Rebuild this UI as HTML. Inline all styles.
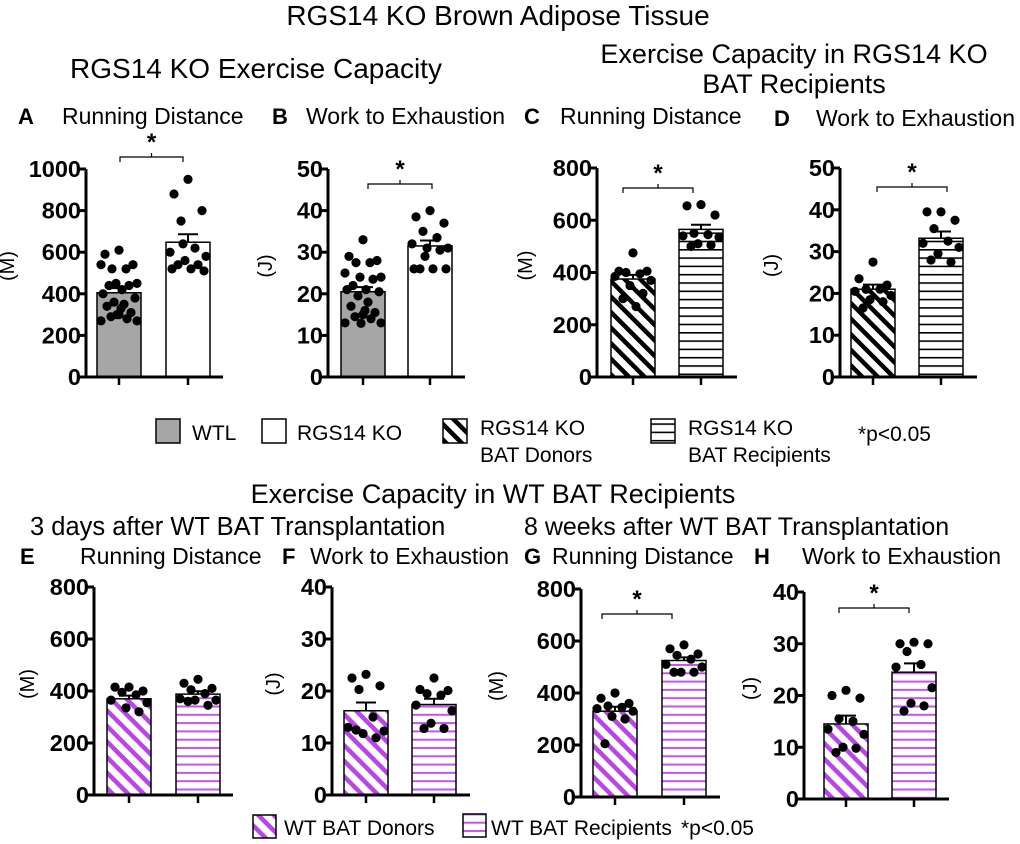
<!DOCTYPE html>
<html><head><meta charset="utf-8"><style>
body{margin:0;background:#fff;}
svg{display:block;font-family:"Liberation Sans",Arial,sans-serif;}
</style></head><body>
<svg id="fig" width="1020" height="844" viewBox="0 0 1020 844" xmlns="http://www.w3.org/2000/svg">
<defs>
<pattern id="hatchK" patternUnits="userSpaceOnUse" width="11" height="11" patternTransform="rotate(-45)"><rect width="11" height="11" fill="#fff"/><rect x="0" y="0" width="4.5" height="11" fill="#000"/></pattern>
<pattern id="horizK" patternUnits="userSpaceOnUse" width="10" height="8.3"><rect width="10" height="8.3" fill="#fff"/><rect x="0" y="0" width="10" height="1.6" fill="#000"/></pattern>
<pattern id="hatchP" patternUnits="userSpaceOnUse" width="11" height="11" patternTransform="rotate(-45)"><rect width="11" height="11" fill="#fff"/><rect x="0" y="0" width="4.5" height="11" fill="#b845e6"/></pattern>
<pattern id="horizP" patternUnits="userSpaceOnUse" width="10" height="8.3"><rect width="10" height="8.3" fill="#fff"/><rect x="0" y="0" width="10" height="2" fill="#c455ea"/></pattern>
</defs>
<g font-size="27">
<text x="498" y="25" text-anchor="middle" font-size="28">RGS14 KO Brown Adipose Tissue</text>
<text x="256" y="78" text-anchor="middle" font-size="28">RGS14 KO Exercise Capacity</text>
<text x="794" y="63" text-anchor="middle">Exercise Capacity in RGS14 KO</text>
<text x="794" y="93" text-anchor="middle">BAT Recipients</text>
<text x="493" y="503" text-anchor="middle">Exercise Capacity in WT BAT Recipients</text>
<text x="30" y="535" font-size="25.5">3 days after WT BAT Transplantation</text>
<text x="524" y="535" font-size="25">8 weeks after WT BAT Transplantation</text>
</g>
<g font-size="21">
<rect x="156" y="419" width="24" height="24" fill="#a6a6a6" stroke="#000" stroke-width="1.5"/>
<text x="192" y="440">WTL</text>
<rect x="262" y="419" width="24" height="24" fill="#fff" stroke="#000" stroke-width="1.5"/>
<text x="297" y="440">RGS14 KO</text>
<rect x="443" y="419" width="24" height="24" fill="url(#hatchK)" stroke="#000" stroke-width="1.5"/>
<text x="480" y="435">RGS14 KO</text>
<text x="480" y="462">BAT Donors</text>
<rect x="651" y="419" width="24" height="24" fill="url(#horizK)" stroke="#000" stroke-width="1.5"/>
<text x="688" y="435">RGS14 KO</text>
<text x="688" y="462">BAT Recipients</text>
<text x="858" y="441">*p&lt;0.05</text>
</g>
<g font-size="21">
<rect x="253" y="815" width="23" height="23" fill="url(#hatchP)" stroke="#000" stroke-width="1.5"/>
<text x="284" y="835">WT BAT Donors</text>
<rect x="463" y="814" width="23" height="23" fill="url(#horizP)" stroke="#000" stroke-width="1.5"/>
<text x="491" y="835">WT BAT Recipients</text>
<text x="681" y="835">*p&lt;0.05</text>
</g>
</svg>
<script>
const aVals1=[610,590,540,520,520,540,450,450,440,440,420,400,380,360,350,340,310,300,290,280,270,270,300,330];
const aVals2=[950,880,800,750,620,600,580,560,540,540,520,520,510,640];
const bVals1=[33,29,28,27.5,27.5,25,24,24,23.5,22,21,21,20.5,19.5,18,17,15.5,15,14.5,14,13,13,12.9,16];
const bVals2=[40,38.5,37,35,33.5,32,31,31,30.5,26,26,26,26,29];
const cVals1=[475,405,405,400,395,385,370,350,320,300,270];
const cVals2=[660,655,620,550,545,540,535,510,505,500];
const dVals1=[27.5,23.5,22,21,21,20.5,19.5,18.5,18,16.5];
const dVals2=[39.5,39.5,37.5,35.5,32.5,32,31,29.5,27.5,28];
const eVals1=[415,415,400,395,385,365,355,335,320];
const eVals2=[445,430,410,405,390,370,365,365,345,360];
const fVals1=[23.2,22.5,21,20.3,15,13,12.3,11.8,11,12.5];
const fVals2=[22.5,20.3,20.1,19.5,19.2,17.3,16.2,13.8,12.8,12.8];
const gVals1=[400,380,360,350,345,340,330,310,300,205];
const gVals2=[585,570,550,545,530,510,500,480,480,480];
const hVals1=[21,20,19.5,15.5,15,13.5,12.5,10,9.8,9];
const hVals2=[30.3,30,30,28.5,26,25.5,21.5,18.5,18,17];
const means=[[405,648],[20.5,31.5],[375,565],[21,33.2],[370,388],[16.2,17.4],[330,525],[14.5,24.5]];
const sems=[[22,38],[1.1,1.3],[16,18],[1.1,1.6],[12,11],[1.6,1.1],[17,12],[1.6,1.7]];
const yTicks1000=[0,200,400,600,800,1000];
const yTicks800=[0,200,400,600,800];
const yTicks50=[0,10,20,30,40,50];
const yTicks40=[0,10,20,30,40];

const NS='http://www.w3.org/2000/svg';
const svg=document.getElementById('fig');
function mk(tag,attrs,parent){const e=document.createElementNS(NS,tag);for(const k in attrs)e.setAttribute(k,attrs[k]);(parent||svg).appendChild(e);return e;}

const panels=[
 {id:'a',L:'A',title:'Running Distance',lx:18,tx:62,ty:124,ax:86,yt:169,y0:377,xe:223,b:[97,166],max:1000,ticks:yTicks1000,unit:'(M)',fills:['#a6a6a6','#fff'],v:[aVals1,aVals2],br:[157,120,183],ulx:14},
 {id:'b',L:'B',title:'Work to Exhaustion',lx:272,tx:306,ty:124,ax:328,yt:169,y0:377,xe:465,b:[341,408],max:50,ticks:yTicks50,unit:'(J)',fills:['#a6a6a6','#fff'],v:[bVals1,bVals2],br:[184,368,432],ulx:272},
 {id:'c',L:'C',title:'Running Distance',lx:524,tx:560,ty:124,ax:597,yt:168,y0:377,xe:737,b:[611,679],max:800,ticks:yTicks800,unit:'(M)',fills:['url(#hatchK)','url(#horizK)'],v:[cVals1,cVals2],br:[188,623,693],ulx:532},
 {id:'d',L:'D',title:'Work to Exhaustion',lx:774,tx:816,ty:126,ax:840,yt:168,y0:377,xe:977,b:[851,919],max:50,ticks:yTicks50,unit:'(J)',fills:['url(#hatchK)','url(#horizK)'],v:[dVals1,dVals2],br:[187,877,947],ulx:778},
 {id:'e',L:'E',title:'Running Distance',lx:20,tx:80,ty:564,ax:94,yt:587,y0:795,xe:233,b:[107,176],max:800,ticks:yTicks800,unit:'(M)',fills:['url(#hatchP)','url(#horizP)'],v:[eVals1,eVals2],br:null,ulx:34},
 {id:'f',L:'F',title:'Work to Exhaustion',lx:282,tx:310,ty:564,ax:332,yt:587,y0:795,xe:470,b:[344,412],max:40,ticks:yTicks40,unit:'(J)',fills:['url(#hatchP)','url(#horizP)'],v:[fVals1,fVals2],br:null,ulx:280},
 {id:'g',L:'G',title:'Running Distance',lx:524,tx:552,ty:564,ax:581,yt:589,y0:797,xe:720,b:[593,662],max:800,ticks:yTicks800,unit:'(M)',fills:['url(#hatchP)','url(#horizP)'],v:[gVals1,gVals2],br:[614,602,672],ulx:503},
 {id:'h',L:'H',title:'Work to Exhaustion',lx:754,tx:802,ty:564,ax:804,yt:592,y0:799,xe:949,b:[824,892],max:40,ticks:yTicks40,unit:'(J)',fills:['url(#hatchP)','url(#horizP)'],v:[hVals1,hVals2],br:[608,839,909],ulx:757},
];
const BW=44;
const jit=[0,-14,14,-7,7,-18,18,-3,10,-10,3,-16,16,-5,5,-12,12,0,-8,8,-18,18,-2,2];

panels.forEach((p,pi)=>{
 const g=mk('g',{});
 
 
 const y=v=>p.y0-(v/p.max)*(p.y0-p.yt);
 const lt=mk('text',{x:p.lx,y:p.ty,'font-size':22,'font-weight':'bold'},g);lt.textContent=p.L;
 
 
 const tt=mk('text',{x:p.tx,y:p.ty,'font-size':23},g);tt.textContent=p.title;
 
 
 [0,1].forEach(i=>{
  const m=means[pi][i];
  const r=mk('rect',{x:p.b[i],y:y(m),width:BW,height:p.y0-y(m),fill:p.fills[i],stroke:'#000','stroke-width':1.5},g);
  
  
  const cx=p.b[i]+BW/2, s=sems[pi][i];
  const eb=mk('path',{d:`M${cx} ${y(m)} V${y(m+s)} M${cx-10} ${y(m+s)} H${cx+10}`,stroke:'#000','stroke-width':2,fill:'none'},g);
  
  
  p.v[i].forEach((v,k)=>{
   const c=mk('circle',{cx:cx+jit[k%jit.length],cy:y(v),r:4.6,fill:'#000'},g);
   
   
  });
  mk('line',{x1:cx,x2:cx,y1:p.y0,y2:p.y0+8,stroke:'#000','stroke-width':2.5},g);
 });
 const ya=mk('path',{d:`M${p.ax} ${p.yt} V${p.y0} H${p.xe}`,stroke:'#000','stroke-width':3,fill:'none'},g);
 
 
 p.ticks.forEach(t=>{
  mk('line',{x1:p.ax-7,x2:p.ax,y1:y(t),y2:y(t),stroke:'#000','stroke-width':3},g);
  const tl=mk('text',{x:p.ax-5,y:y(t)+8,'text-anchor':'end','font-size':23.5,'font-weight':'bold'},g);
  tl.textContent=t;
  
  
 });
 const ym=(p.yt+p.y0)/2;
 const ul=mk('text',{x:p.ulx+7,y:ym,'font-size':20,'text-anchor':'middle',transform:`rotate(-90 ${p.ulx} ${ym})`},g);
 ul.textContent=p.unit;
 
 
 if(p.br){
  const [by,x1,x2]=p.br,mx=(x1+x2)/2;
  const br=mk('path',{d:`M${x1} ${by+5} V${by} H${x2} V${by+5} M${mx} ${by} V${by-4}`,stroke:'#000','stroke-width':1.2,fill:'none'},g);
  
  
  const st=mk('text',{x:mx,y:by-7,'text-anchor':'middle','font-size':24,'font-weight':'bold'},g);
  st.textContent='*';
  
  
 }
});
</script>
</body></html>
